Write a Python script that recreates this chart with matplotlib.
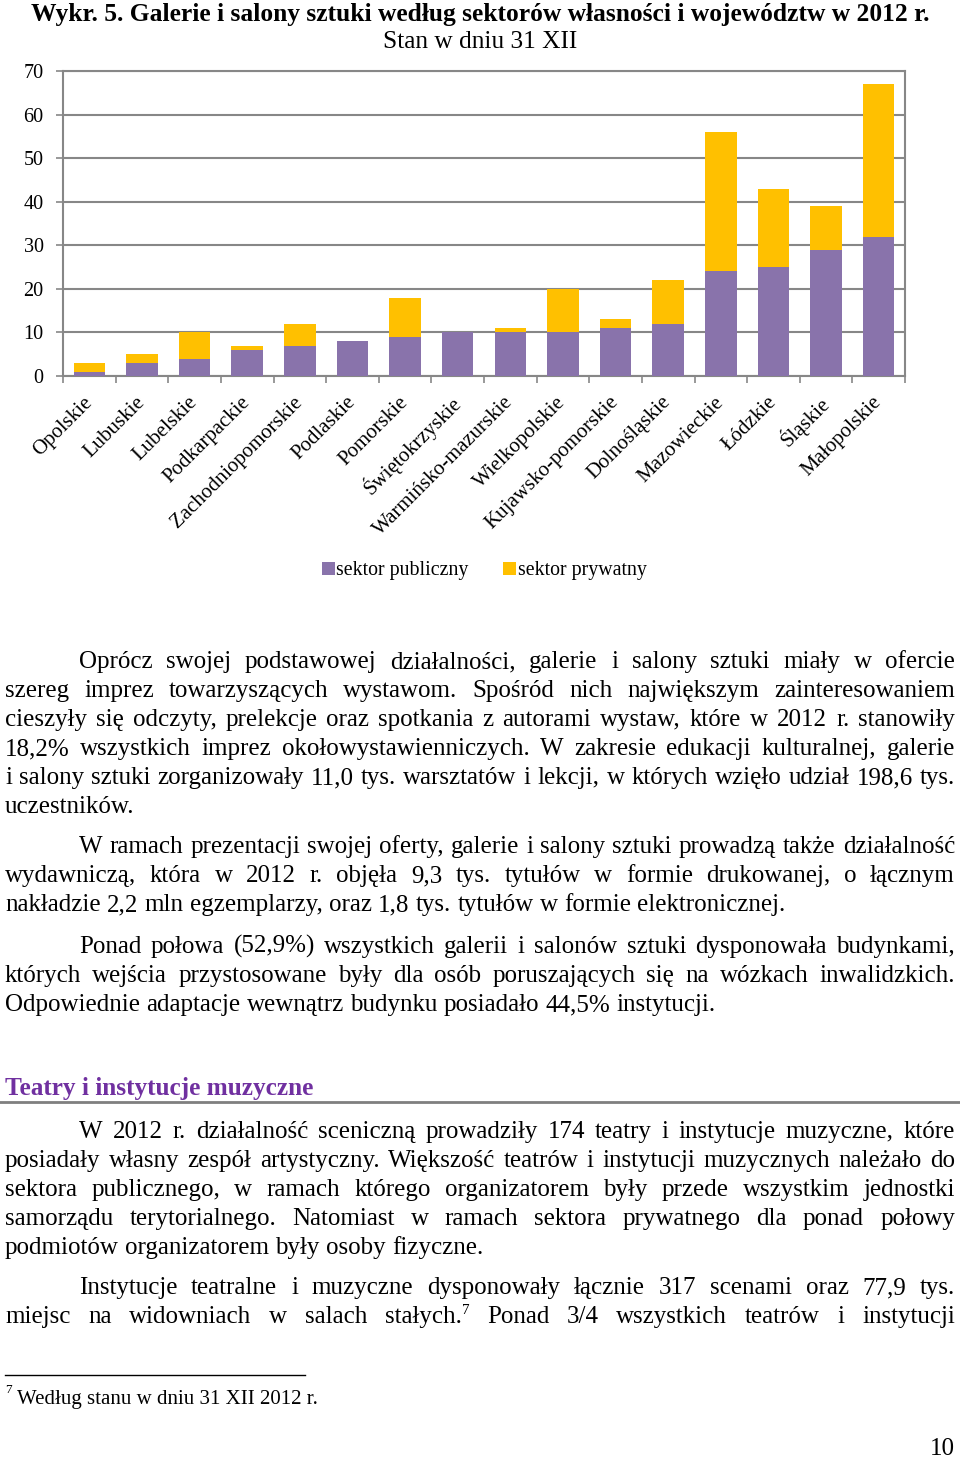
# Wykr. 5 - galerie i salony sztuki wg sektorow i wojewodztw, 2012 (strona z tekstem)

import matplotlib
matplotlib.use("Agg")
import matplotlib.pyplot as plt
from matplotlib.lines import Line2D
import numpy as np

# data
regions = ['Opolskie', 'Lubuskie', 'Lubelskie', 'Podkarpackie', 'Zachodniopomorskie',
           'Podlaskie', 'Pomorskie', 'Świętokrzyskie', 'Warmińsko-mazurskie',
           'Wielkopolskie', 'Kujawsko-pomorskie', 'Dolnośląskie', 'Mazowieckie',
           'Łódzkie', 'Śląskie', 'Małopolskie']
public = [1, 3, 4, 6, 7, 8, 9, 10, 10, 10, 11, 12, 24, 25, 29, 32]
private = [2, 2, 6, 1, 5, 0, 9, 0, 1, 10, 2, 10, 32, 18, 10, 35]
series_names = ['sektor publiczny', 'sektor prywatny']
yticks = [0, 10, 20, 30, 40, 50, 60, 70]

title = 'Wykr. 5. Galerie i salony sztuki według sektorów własności i województw w 2012 r.'
subtitle = 'Stan w dniu 31 XII'

# page text: (lines, baseline of first line, last line justified too)
paragraphs = [
    (['Oprócz swojej podstawowej działalności, galerie i salony sztuki miały w ofercie',
      'szereg imprez towarzyszących wystawom. Spośród nich największym zainteresowaniem',
      'cieszyły się odczyty, prelekcje oraz spotkania z autorami wystaw, które w 2012 r. stanowiły',
      '18,2% wszystkich imprez okołowystawienniczych. W zakresie edukacji kulturalnej, galerie',
      'i salony sztuki zorganizowały 11,0 tys. warsztatów i lekcji, w których wzięło udział 198,6 tys.',
      'uczestników.'], 668, False),
    (['W ramach prezentacji swojej oferty, galerie i salony sztuki prowadzą także działalność',
      'wydawniczą, która w 2012 r. objęła 9,3 tys. tytułów w formie drukowanej, o łącznym',
      'nakładzie 2,2 mln egzemplarzy, oraz 1,8 tys. tytułów w formie elektronicznej.'], 853, False),
    (['Ponad połowa (52,9%) wszystkich galerii i salonów sztuki dysponowała budynkami,',
      'których wejścia przystosowane były dla osób poruszających się na wózkach inwalidzkich.',
      'Odpowiednie adaptacje wewnątrz budynku posiadało 44,5% instytucji.'], 953, False),
    (['W 2012 r. działalność sceniczną prowadziły 174 teatry i instytucje muzyczne, które',
      'posiadały własny zespół artystyczny. Większość teatrów i instytucji muzycznych należało do',
      'sektora publicznego, w ramach którego organizatorem były przede wszystkim jednostki',
      'samorządu terytorialnego. Natomiast w ramach sektora prywatnego dla ponad połowy',
      'podmiotów organizatorem były osoby fizyczne.'], 1138, False),
    (['Instytucje teatralne i muzyczne dysponowały łącznie 317 scenami oraz 77,9 tys.',
      'miejsc na widowniach w salach stałych.^7 Ponad 3/4 wszystkich teatrów i instytucji'], 1294, True),
]
heading = 'Teatry i instytucje muzyczne'
footnote = 'Według stanu w dniu 31 XII 2012 r.'

plt.rcParams['font.family'] = ['Liberation Serif', 'DejaVu Serif']

W, H = 960, 1459
fig = plt.figure(figsize=(W / 100, H / 100), dpi=100)


def fx(x):
    return x / W


def fy(y):
    return 1 - y / H


purple = '#8973AB'
gold = '#FFC000'
grey = '#878787'

# chart
ax = fig.add_axes([fx(63), fy(376), (905 - 63) / W, (376 - 71) / H])
x = np.arange(len(regions))
b1 = ax.bar(x, public, 0.6, color=purple, zorder=3)
b2 = ax.bar(x, private, 0.6, bottom=public, color=gold, zorder=3)
ax.set_xlim(-0.5, len(regions) - 0.5)
ax.set_ylim(0, 70)
ax.set_yticks(yticks)
ax.set_yticklabels([str(v) for v in yticks], fontsize=14.5)
ax.yaxis.grid(True, color=grey, lw=1.5, zorder=0)
for s in ax.spines.values():
    s.set_color(grey)
    s.set_linewidth(1.5)
ax.tick_params(axis='y', colors=grey, length=5, width=1.2, pad=9, labelcolor='black')
ax.set_xticks(x)
ax.set_xticklabels(regions, rotation=45, ha='right', va='center',
                   rotation_mode='anchor', fontsize=15)
ax.tick_params(axis='x', which='major', length=0, pad=17)
ax.set_xticks(np.arange(-0.5, len(regions), 1), minor=True)
ax.tick_params(axis='x', which='minor', length=5, width=1.2, color=grey)

fig.text(0.5, fy(21), title, ha='center', va='baseline', fontsize=18.4, fontweight='bold')
fig.text(fx(480), fy(48), subtitle, ha='center', va='baseline', fontsize=18.3)

fig.legend([b1, b2], series_names, loc='center', bbox_to_anchor=(fx(484), fy(571)),
           ncol=2, frameon=False, fontsize=14.3, handlelength=0.65, handleheight=0.65,
           handletextpad=0.1, columnspacing=1.7)

# body text with justified lines
renderer = fig.canvas.get_renderer()
BODY = 18
LEFT, RIGHT, INDENT = 5, 955, 79
LEAD = 29


def word_objs(word, xpos, y, size):
    if '^' in word:
        base, sup = word.split('^')
        t1 = fig.text(fx(xpos), fy(y), base, fontsize=size, va='baseline')
        w1 = t1.get_window_extent(renderer).width
        t2 = fig.text(fx(xpos + w1), fy(y - 9), sup, fontsize=size * 0.6, va='baseline')
        w2 = t2.get_window_extent(renderer).width
        return [(t1, 0), (t2, w1)], w1 + w2
    t = fig.text(fx(xpos), fy(y), word, fontsize=size, va='baseline')
    return [(t, 0)], t.get_window_extent(renderer).width


def put_line(line, x0, x1, y, size, justify):
    words = line.split(' ')
    items = [word_objs(w, x0, y, size) for w in words]
    total = sum(wd for _, wd in items)
    if justify and len(words) > 1:
        gap = (x1 - x0 - total) / (len(words) - 1)
    else:
        gap = size * 100 / 72 * 0.25
    pos = x0
    for parts, wd in items:
        for t, off in parts:
            t.set_x(fx(pos + off))
        pos += wd + gap


for lines, y0, last_just in paragraphs:
    for i, line in enumerate(lines):
        x0 = INDENT if i == 0 else LEFT
        just = (i < len(lines) - 1) or last_just
        put_line(line, x0, RIGHT, y0 + i * LEAD, BODY, just)

fig.text(fx(5), fy(1095), heading, fontsize=18.2, fontweight='bold', color='#7030A0',
         va='baseline')
fig.add_artist(Line2D([0, 1], [fy(1102), fy(1102)], color='#7f7f7f', lw=2))

fig.add_artist(Line2D([fx(5), fx(305)], [fy(1375), fy(1375)], color='black', lw=1))
fig.text(fx(5), fy(1393), '7', fontsize=9.5, va='baseline')
fig.text(fx(17), fy(1404), footnote, fontsize=15, va='baseline')
fig.text(fx(955), fy(1455), '10', fontsize=18, ha='right', va='baseline')

fig.savefig('out.png', dpi=100)
